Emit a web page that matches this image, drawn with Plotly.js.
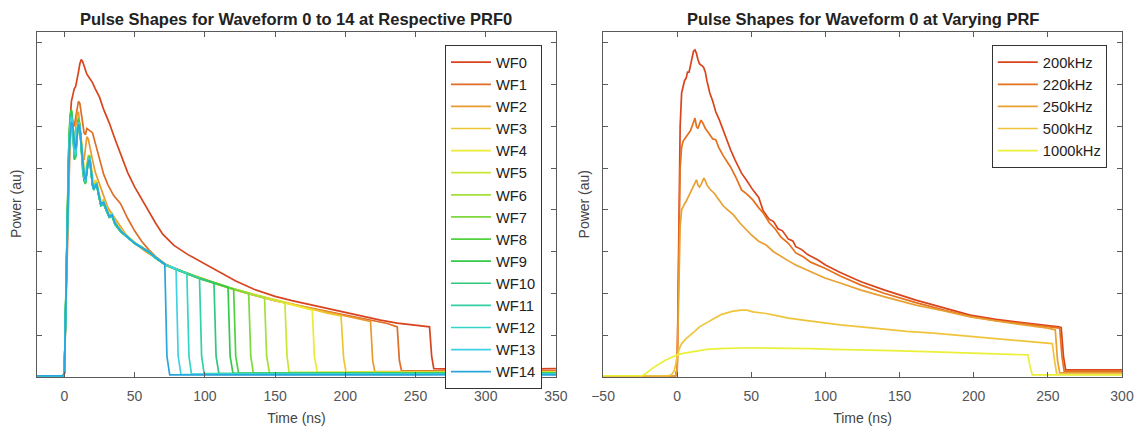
<!DOCTYPE html>
<html>
<head>
<meta charset="utf-8">
<script src="https://cdn.plot.ly/plotly-3.0.1.min.js"></script>
<style>
html,body{margin:0;padding:0;background:#fff;}
#chart{width:1143px;height:431px;}
</style>
</head>
<body>
<div id="chart"></div>
<script>
// ---------- Left panel: WF0 .. WF14 (time in ns, power in au) ----------
const wfNames = ["WF0","WF1","WF2","WF3","WF4","WF5","WF6","WF7","WF8","WF9","WF10","WF11","WF12","WF13","WF14"];
const wfColors = ["#d8441e","#de6d26","#e99a2e","#efc530","#ebec33","#c9e637","#a4e03a","#7ed93c","#4fd23d","#35c94c","#33c77e","#33cfa5","#35d6c6","#3fd2e6","#2aa6dc"];

const wf0_t = [-19.5,-1,0,1,2,3,4,5,6,7,8,9,10,11,12,13,14,15,16,17,18,19,20,22,25,28,32,36,40,45,50,55,60,65,70,78,88,97,110,122,135,150,162,174,188,200,213,225,237,250,260,261.5,263,280,300,320,350];
const wf0_y = [0.03,0.03,0.1,1.8,3.6,5.0,6.1,6.6,6.75,6.9,6.95,7.1,7.3,7.5,7.6,7.55,7.45,7.3,7.25,7.2,7.15,7.1,7.05,6.9,6.7,6.4,6.08,5.7,5.35,4.9,4.55,4.25,3.98,3.68,3.42,3.15,2.93,2.76,2.52,2.3,2.1,1.93,1.83,1.74,1.63,1.55,1.45,1.36,1.29,1.23,1.2,0.5,0.2,0.19,0.2,0.19,0.2];

const wf1_t = [-19.5,-1,0,1,2,3,4,5,6,7,8,9,10,11,12,13,14,15,16,18,20,22,25,28,31,35,40,45,50,55,60,65,72,80,88,97,107,120,135,150,165,180,198,218,230,237,238.5,240,260,300,350];
const wf1_y = [0.03,0.03,0.1,1.6,3.3,4.7,5.6,6.0,6.1,6.0,6.2,6.45,6.6,6.55,6.3,6.0,5.85,5.8,5.95,5.9,5.85,5.6,5.2,4.85,4.6,4.35,4.15,3.8,3.5,3.25,3.05,2.88,2.7,2.58,2.47,2.36,2.25,2.1,1.96,1.83,1.72,1.62,1.5,1.36,1.28,1.2,0.4,0.15,0.15,0.16,0.15];

const wf2_t = [-19.5,-1,0,1,2,3,4,5,6,7,8,9,10,11,12,13,14,15,16,17,18,20,22,25,28,31,35,40,45,50,58,65,72,80,88,97,107,120,135,150,165,180,198,210,218,219.5,221,260,300,350];
const wf2_y = [0.03,0.03,0.1,1.7,3.4,4.8,5.7,6.1,6.0,5.6,5.9,6.3,6.35,6.0,5.6,5.3,5.2,5.5,5.75,5.7,5.5,5.2,4.9,4.6,4.3,4.05,3.85,3.6,3.35,3.2,3.0,2.85,2.68,2.57,2.46,2.35,2.24,2.1,1.96,1.83,1.72,1.61,1.48,1.4,1.33,0.4,0.13,0.13,0.14,0.13];

// shared early sample times for WF3..WF14 (their rising edges overlap)
const tEarly = [-19.5,-1,0,1,2,3,4,5,6,7,8,9,10,11,12,13,14,15,16,17,18,19,20,21,22,23,24,26,28,30,32,34,36,40];

const wf3_t = tEarly.concat([45,50,55,60,65,72,80,88,97,107,117,127,137,147,157,167,177,187,197,198.8,200.5,250,300,350]);
const wf3_y = [0.03,0.03,0.1,1.7,3.5,4.9,5.8,6.15,6.0,5.7,5.6,6.0,6.2,6.05,5.7,5.3,5.0,4.9,5.1,5.3,5.3,5.05,4.75,4.6,4.7,4.7,4.5,4.2,4.25,4.05,3.9,3.92,3.75,3.55,
  3.37,3.22,3.1,3.0,2.86,2.7,2.58,2.48,2.37,2.26,2.15,2.05,1.96,1.88,1.79,1.7,1.61,1.53,1.46,0.45,0.12,0.12,0.13,0.12];

const wf4_t = tEarly.concat([45,50,55,60,65,72,80,88,97,107,117,127,137,147,157,167,176.5,178,180,250,300,350]);
const wf4_y = [0.03,0.03,0.1,1.8,3.6,5.0,5.9,6.2,6.05,5.6,5.5,5.95,6.15,6.0,5.65,5.2,4.9,4.8,5.0,5.25,5.25,5.0,4.7,4.55,4.65,4.7,4.5,4.2,4.2,4.02,3.88,3.9,3.72,3.52,
  3.34,3.2,3.12,2.99,2.84,2.69,2.57,2.47,2.35,2.25,2.13,2.04,1.95,1.87,1.78,1.69,1.6,0.5,0.12,0.11,0.12,0.11];

const wf5_t = tEarly.concat([45,50,55,60,65,72,80,88,97,107,117,127,137,147,157,158.5,160,250,300,350]);
const wf5_y = [0.03,0.03,0.1,1.9,3.7,5.1,6.0,6.25,6.0,5.5,5.45,5.9,6.1,5.95,5.6,5.15,4.85,4.75,4.95,5.2,5.2,4.95,4.65,4.5,4.6,4.65,4.45,4.15,4.18,4.0,3.86,3.88,3.7,3.5,
  3.36,3.21,3.09,3.01,2.85,2.68,2.59,2.46,2.36,2.24,2.14,2.05,1.96,1.86,1.79,0.5,0.11,0.11,0.12,0.11];

const wf6_t = tEarly.concat([45,50,55,60,65,72,80,88,97,107,117,127,137,142.5,144,146,250,300,350]);
const wf6_y = [0.03,0.03,0.1,1.9,3.8,5.2,6.1,6.3,6.05,5.4,5.35,5.85,6.1,5.95,5.55,5.1,4.8,4.7,4.9,5.15,5.2,4.95,4.6,4.5,4.6,4.62,4.42,4.12,4.17,3.98,3.85,3.87,3.68,3.5,
  3.35,3.19,3.1,2.99,2.86,2.67,2.57,2.48,2.35,2.25,2.13,2.04,1.95,1.9,0.5,0.1,0.1,0.11,0.1];

const wf7_t = tEarly.concat([45,50,55,60,65,72,80,88,97,107,117,127,131.2,132.7,134.5,250,300,350]);
const wf7_y = [0.03,0.03,0.1,2.0,3.9,5.3,6.2,6.35,6.1,5.3,5.3,5.85,6.15,6.0,5.5,5.05,4.75,4.65,4.9,5.2,5.25,4.95,4.6,4.48,4.6,4.62,4.4,4.1,4.15,3.97,3.83,3.86,3.66,3.48,
  3.34,3.2,3.11,3.0,2.85,2.68,2.58,2.47,2.36,2.24,2.14,2.04,2.0,0.5,0.1,0.1,0.1,0.1];

const wf8_t = tEarly.concat([45,50,55,60,65,72,80,88,97,107,114,120.5,122,124,250,300,350]);
const wf8_y = [0.03,0.03,0.1,2.0,4.0,5.4,6.25,6.4,6.1,5.25,5.3,5.9,6.2,6.05,5.5,5.0,4.7,4.65,4.95,5.25,5.3,5.0,4.6,4.5,4.62,4.64,4.42,4.12,4.16,3.98,3.84,3.87,3.67,3.5,
  3.36,3.21,3.1,2.99,2.86,2.69,2.57,2.48,2.35,2.25,2.17,2.1,0.5,0.09,0.09,0.1,0.09];

const wf9_t = tEarly.concat([45,50,55,60,65,72,80,88,97,107,116.5,118,120,250,300,350]);
const wf9_y = [0.03,0.03,0.1,2.0,3.9,5.35,6.2,6.38,6.05,5.2,5.25,5.85,6.15,6.0,5.45,4.95,4.7,4.62,4.9,5.2,5.25,4.95,4.58,4.47,4.6,4.6,4.4,4.1,4.14,3.96,3.82,3.85,3.65,3.48,
  3.35,3.2,3.1,3.0,2.84,2.68,2.58,2.46,2.36,2.25,2.15,0.5,0.09,0.09,0.1,0.09];

const wf10_t = tEarly.concat([45,50,55,60,65,72,80,88,97,106.5,108,110,250,300,350]);
const wf10_y = [0.03,0.03,0.1,1.9,3.8,5.2,6.1,6.3,6.0,5.25,5.3,5.85,6.1,5.95,5.5,5.0,4.72,4.65,4.9,5.2,5.22,4.95,4.6,4.48,4.6,4.6,4.4,4.1,4.14,3.96,3.82,3.85,3.66,3.48,
  3.34,3.21,3.1,2.99,2.85,2.69,2.57,2.47,2.35,2.26,0.5,0.08,0.08,0.09,0.08];

const wf11_t = tEarly.concat([45,50,55,60,65,72,80,88,96.2,97.7,99.5,250,300,350]);
const wf11_y = [0.03,0.03,0.1,1.8,3.7,5.1,6.0,6.25,6.0,5.3,5.3,5.85,6.1,5.95,5.5,5.05,4.75,4.68,4.9,5.2,5.2,4.95,4.6,4.5,4.6,4.62,4.42,4.12,4.15,3.97,3.83,3.86,3.67,3.49,
  3.36,3.2,3.11,3.0,2.86,2.68,2.58,2.47,2.37,0.5,0.08,0.08,0.09,0.08];

const wf12_t = tEarly.concat([45,50,55,60,65,72,80,87.2,88.7,90.5,250,300,350]);
const wf12_y = [0.03,0.03,0.1,1.8,3.6,5.0,5.95,6.2,6.0,5.35,5.35,5.9,6.1,6.0,5.55,5.1,4.78,4.7,4.9,5.2,5.22,4.98,4.6,4.5,4.6,4.63,4.43,4.13,4.17,3.98,3.84,3.87,3.68,3.5,
  3.35,3.2,3.1,2.99,2.85,2.69,2.58,2.48,0.5,0.07,0.07,0.08,0.07];

const wf13_t = tEarly.concat([45,50,55,60,65,72,79.5,81,83,250,300,350]);
const wf13_y = [0.03,0.03,0.1,1.8,3.6,5.0,5.9,6.2,6.1,5.5,5.4,5.9,6.1,6.0,5.6,5.1,4.8,4.7,4.9,5.2,5.25,5.0,4.6,4.5,4.6,4.65,4.45,4.15,4.2,4.0,3.85,3.9,3.7,3.5,
  3.34,3.21,3.1,3.0,2.85,2.68,2.59,0.5,0.06,0.06,0.07,0.06];

const wf14_t = tEarly.concat([45,50,55,60,65,71.5,73,75,250,300,350]);
const wf14_y = [0.03,0.03,0.1,1.7,3.5,4.9,5.8,6.1,6.05,5.6,5.45,5.85,6.05,5.95,5.6,5.15,4.85,4.72,4.88,5.15,5.2,4.98,4.62,4.5,4.58,4.62,4.43,4.14,4.18,3.99,3.84,3.88,3.69,3.5,
  3.36,3.2,3.1,3.0,2.86,2.7,0.5,0.05,0.05,0.06,0.05];

const leftT = [wf0_t,wf1_t,wf2_t,wf3_t,wf4_t,wf5_t,wf6_t,wf7_t,wf8_t,wf9_t,wf10_t,wf11_t,wf12_t,wf13_t,wf14_t];
const leftY = [wf0_y,wf1_y,wf2_y,wf3_y,wf4_y,wf5_y,wf6_y,wf7_y,wf8_y,wf9_y,wf10_y,wf11_y,wf12_y,wf13_y,wf14_y];

// ---------- Right panel: Waveform 0 at varying PRF ----------
const prfNames = ["200kHz","220kHz","250kHz","500kHz","1000kHz"];
const prfColors = ["#d9441c","#e5701e","#e9a032","#f0c43a","#eaf03a"];

const r200_t = [-50,-1,0,1,2,3,4,5,6,7,8,9,10,11,12,13,14,15,16,17,18,19,20,22,24,26,28.5,31,33.5,36,39,43.4,47,51,55,58,62,65,68,71,75,78,80,84,88,92,95,100,110,124,140,161,180,197.6,215,234,250,257.6,259,260.5,262,300];
const r200_y = [0.03,0.03,0.2,3.5,6.0,6.8,7.0,7.1,7.15,7.3,7.3,7.5,7.65,7.8,7.83,7.75,7.6,7.5,7.47,7.45,7.4,7.3,7.1,6.8,6.6,6.35,6.15,5.9,5.7,5.44,5.2,4.88,4.7,4.48,4.3,3.98,3.78,3.72,3.55,3.5,3.3,3.26,3.12,3.05,2.93,2.86,2.8,2.68,2.5,2.28,2.08,1.84,1.66,1.48,1.38,1.29,1.23,1.2,1.18,0.5,0.17,0.17];

const r220_t = [-50,-1,0,1,2,3,4,5,6,7,8,9,10,11,12,13,14,15,16,17,18,19,20,22,24,26,28,31,34,36,40,43.4,47,51,55,58,62,66,70,75,80,85,90,95,100,110,124,140,161,180,197.6,215,234,250,258,259.5,261,300];
const r220_y = [0.03,0.03,0.2,3.0,5.0,5.5,5.65,5.7,5.75,5.8,5.85,5.9,6.0,6.1,6.2,6.0,5.95,6.05,6.15,6.1,6.0,5.95,5.9,5.8,5.7,5.68,5.5,5.3,5.15,5.03,4.75,4.48,4.38,4.24,4.05,3.93,3.7,3.55,3.35,3.2,2.97,2.88,2.75,2.68,2.6,2.42,2.2,2.0,1.78,1.6,1.45,1.35,1.27,1.2,1.17,0.5,0.14,0.14];

const r250_t = [-50,-1,0,1,2,3,4,5,6,8,10,12,13,14,15,16,17,18,19,20,22,25,28,31,34,38,42,46,50,55,60,65,70,75,80,90,99.6,110,124,140,161,180,197.6,215,234,250,255,256.5,258,300];
const r250_y = [0.03,0.03,0.2,2.2,3.6,4.0,4.1,4.15,4.2,4.35,4.5,4.65,4.72,4.6,4.55,4.6,4.7,4.76,4.7,4.6,4.5,4.4,4.25,4.1,4.0,3.88,3.7,3.55,3.4,3.25,3.16,3.0,2.88,2.78,2.68,2.52,2.37,2.25,2.08,1.92,1.72,1.58,1.44,1.34,1.25,1.17,1.13,0.4,0.1,0.1];

const r500_t = [-50,-6,-4,-2,-1,0,1.5,3,6,9,12,15,18,21,24,27,30,33,37,43,47,51,55,60,67,75,85,99.6,110,124,140,155,173,190,205,222,238,253,254.5,256,300];
const r500_y = [0.03,0.03,0.05,0.15,0.3,0.5,0.68,0.8,0.92,1.0,1.1,1.2,1.27,1.32,1.38,1.45,1.5,1.53,1.57,1.6,1.6,1.56,1.55,1.52,1.47,1.41,1.36,1.29,1.25,1.2,1.14,1.09,1.05,1.0,0.95,0.89,0.85,0.8,0.4,0.06,0.06];

const r1000_t = [-50,-24,-22,-20,-17,-14,-11,-8,-5,-2,0,3,6,9,14,20,28,38,50,62,75,90,105,124,145,173,195,215,234,236.5,238,239.5,300];
const r1000_y = [0.03,0.03,0.06,0.12,0.2,0.27,0.34,0.4,0.45,0.5,0.53,0.56,0.58,0.6,0.63,0.66,0.68,0.69,0.7,0.69,0.69,0.68,0.66,0.65,0.63,0.6,0.58,0.56,0.54,0.53,0.25,0.05,0.05];

const rightT = [r200_t,r220_t,r250_t,r500_t,r1000_t];
const rightY = [r200_y,r220_y,r250_y,r500_y,r1000_y];

const xTicksLeft = [0,50,100,150,200,250,300,350];
const xTicksRight = [-50,0,50,100,150,200,250,300];

// ---------- build ----------
const FONT = "Liberation Sans, Arial, Helvetica, sans-serif";
const traces = [];
wfNames.forEach((n,i)=>{
  traces.push({type:"scatter",mode:"lines",name:n,x:leftT[i],y:leftY[i],
    xaxis:"x",yaxis:"y",legend:"legend",line:{color:wfColors[i],width:1.7}});
});
prfNames.forEach((n,i)=>{
  traces.push({type:"scatter",mode:"lines",name:n,x:rightT[i],y:rightY[i],
    xaxis:"x2",yaxis:"y2",legend:"legend2",line:{color:prfColors[i],width:1.7}});
});

const axCommon = {showline:true,linecolor:"#5a5a5a",linewidth:1,mirror:"ticks",ticks:"inside",
  ticklen:5,tickcolor:"#5a5a5a",showgrid:false,zeroline:false,ticklabelstandoff:6,
  tickfont:{family:FONT,size:14,color:"#555"}};

const layout = {
  width:1143,height:431,
  paper_bgcolor:"#fff",plot_bgcolor:"#fff",
  margin:{l:37,r:21,t:32,b:54},
  showlegend:true,
  xaxis:Object.assign({},axCommon,{domain:[0,0.4783],range:[-19.5,350],tickvals:xTicksLeft,anchor:"y",
    title:{text:"Time (ns)",font:{family:FONT,size:14,color:"#444"},standoff:10}}),
  yaxis:Object.assign({},axCommon,{domain:[0,1],range:[0,8.26],dtick:1,showticklabels:false,anchor:"x"}),
  xaxis2:Object.assign({},axCommon,{domain:[0.5217,1],range:[-50,300],tickvals:xTicksRight,anchor:"y2",
    title:{text:"Time (ns)",font:{family:FONT,size:14,color:"#444"},standoff:10}}),
  yaxis2:Object.assign({},axCommon,{domain:[0,1],range:[0,8.26],dtick:1,showticklabels:false,anchor:"x2"}),
  legend:{x:0.376,y:0.962,xanchor:"left",yanchor:"top",bgcolor:"#fff",bordercolor:"#333",borderwidth:1,
    font:{family:FONT,size:14.7,color:"#222"},itemwidth:40,tracegroupgap:0},
  legend2:{x:0.88,y:0.962,xanchor:"left",yanchor:"top",bgcolor:"#fff",bordercolor:"#333",borderwidth:1,
    font:{family:FONT,size:14.7,color:"#222"},itemwidth:40,tracegroupgap:0},
  annotations:[
    {text:"<b>Pulse Shapes for Waveform 0 to 14 at Respective PRF0</b>",xref:"paper",yref:"paper",x:0.2391,y:1.0377,
      xanchor:"center",yanchor:"middle",showarrow:false,font:{family:FONT,size:16.5,color:"#222"}},
    {text:"<b>Pulse Shapes for Waveform 0 at Varying PRF</b>",xref:"paper",yref:"paper",x:0.7609,y:1.0377,
      xanchor:"center",yanchor:"middle",showarrow:false,font:{family:FONT,size:16.5,color:"#222"}},
    {text:"Power (au)",xref:"paper",yref:"paper",x:-0.0198,y:0.5,textangle:-90,xanchor:"center",yanchor:"middle",
      showarrow:false,font:{family:FONT,size:14,color:"#444"}},
    {text:"Power (au)",xref:"paper",yref:"paper",x:0.5041,y:0.5,textangle:-90,xanchor:"center",yanchor:"middle",
      showarrow:false,font:{family:FONT,size:14,color:"#444"}}
  ]
};

Plotly.newPlot("chart",traces,layout,{displayModeBar:false,staticPlot:true});
</script>
</body>
</html>
